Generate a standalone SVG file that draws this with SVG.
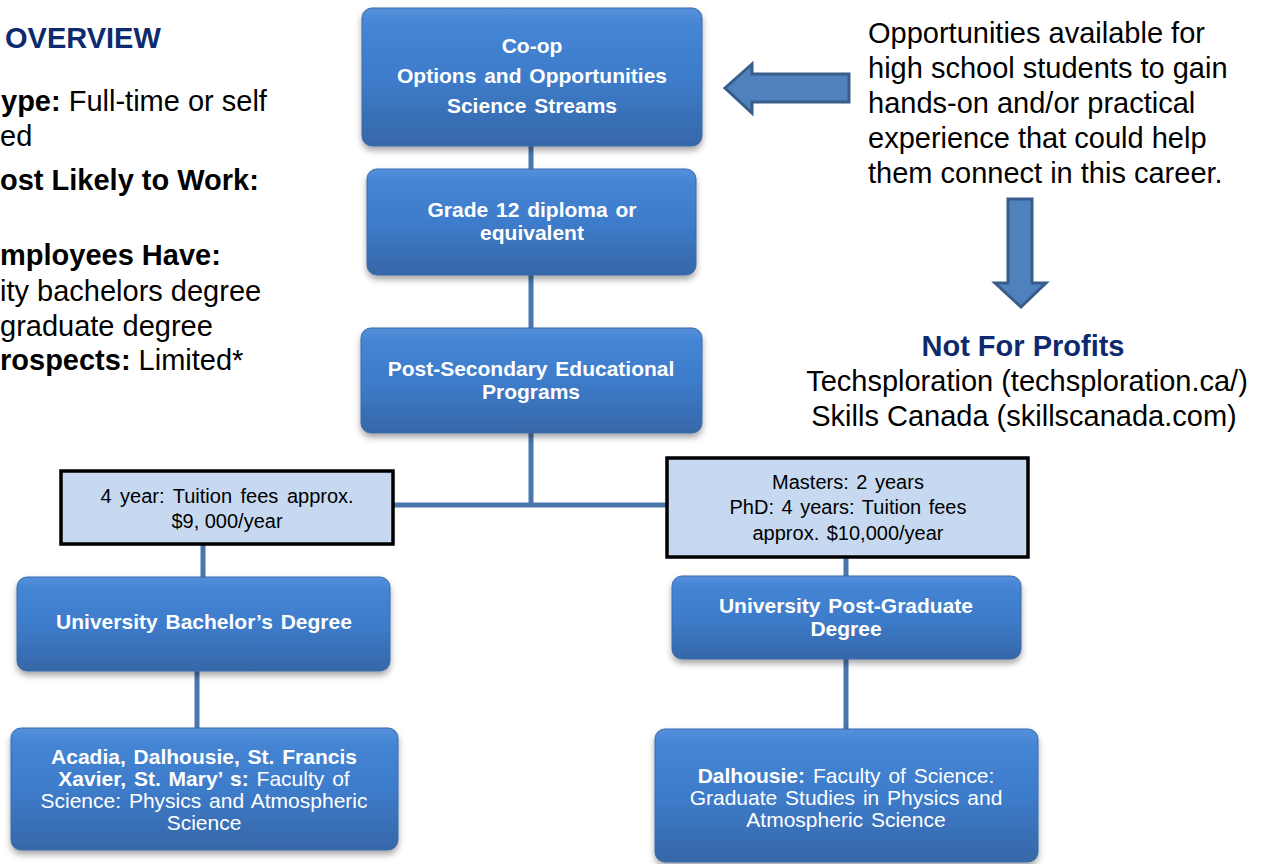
<svg xmlns="http://www.w3.org/2000/svg" width="1266" height="864" viewBox="0 0 1266 864">
<defs>
<linearGradient id="bg" x1="0" y1="0" x2="0" y2="1">
<stop offset="0" stop-color="#5590dc"/>
<stop offset="0.12" stop-color="#4585d4"/>
<stop offset="0.5" stop-color="#3d7ccb"/>
<stop offset="1" stop-color="#3667a8"/>
</linearGradient>
<filter id="sh" x="-10%" y="-10%" width="120%" height="130%">
<feDropShadow dx="0" dy="4" stdDeviation="3" flood-color="#000" flood-opacity="0.35"/>
</filter>
<style>
.box{fill:url(#bg);stroke:#3a6aa8;stroke-width:1;filter:url(#sh)}
.tb{fill:#c6d9f0;stroke:#000;stroke-width:3.5}
.wt{font-family:"Liberation Sans",Arial,sans-serif;font-size:21px;fill:#fff;text-anchor:middle}
.bt{font-family:"Liberation Sans",Arial,sans-serif;font-size:20px;fill:#000;text-anchor:middle}
.big{font-family:"Liberation Sans",Arial,sans-serif;font-size:29px;fill:#000}
.b{font-weight:bold}
.navy{fill:#0d2a6e;font-weight:bold}
.con{stroke:#4a76ae;stroke-width:5;fill:none}
.arr{fill:#4f81bd;stroke:#385d8a;stroke-width:3;stroke-linejoin:miter}
</style>
</defs>
<rect width="1266" height="864" fill="#fff"/>

<g id="connectors">
<line class="con" x1="531" y1="146" x2="531" y2="169"/>
<line class="con" x1="531" y1="275" x2="531" y2="328"/>
<line class="con" x1="531" y1="433" x2="531" y2="505"/>
<line class="con" x1="393" y1="505" x2="667" y2="505"/>
<line class="con" x1="203" y1="544" x2="203" y2="577"/>
<line class="con" x1="197" y1="671" x2="197" y2="728"/>
<line class="con" x1="846" y1="557" x2="846" y2="576"/>
<line class="con" x1="846" y1="659" x2="846" y2="729"/>
</g>

<g id="overview">
<text class="big navy" x="5" y="48" font-size="31">OVERVIEW</text>
<text class="big" x="1" y="111"><tspan class="b">ype:</tspan> Full-time or self</text>
<text class="big" x="0" y="146">ed</text>
<text class="big b" x="0" y="190">ost Likely to Work:</text>
<text class="big b" x="0" y="265">mployees Have:</text>
<text class="big" x="0" y="301">ity bachelors degree</text>
<text class="big" x="0" y="336">graduate degree</text>
<text class="big" x="0" y="370"><tspan class="b">rospects:</tspan> Limited*</text>
</g>

<g id="coop">
<rect class="box" x="362" y="8" width="340" height="138" rx="10"/>
<text class="wt b" x="532" y="53">Co-op</text>
<text class="wt b" x="532" y="83" word-spacing="2">Options and Opportunities</text>
<text class="wt b" x="532" y="113" word-spacing="2">Science Streams</text>
</g>

<g id="grade12">
<rect class="box" x="367" y="169" width="329" height="106" rx="10"/>
<text class="wt b" x="532" y="217" word-spacing="2">Grade 12 diploma or</text>
<text class="wt b" x="532" y="240">equivalent</text>
</g>

<g id="postsec">
<rect class="box" x="361" y="328" width="341" height="105" rx="10"/>
<text class="wt b" x="531" y="376" word-spacing="2">Post-Secondary Educational</text>
<text class="wt b" x="531" y="399">Programs</text>
</g>

<g id="tuition4">
<rect class="tb" x="61" y="471" width="332" height="73"/>
<text class="bt" x="227" y="503" word-spacing="3">4 year: Tuition fees approx.</text>
<text class="bt" x="227" y="528">$9, 000/year</text>
</g>

<g id="tuitionGrad">
<rect class="tb" x="667" y="458" width="361" height="99"/>
<text class="bt" x="848" y="489" word-spacing="2">Masters: 2 years</text>
<text class="bt" x="848" y="514" word-spacing="2">PhD: 4 years: Tuition fees</text>
<text class="bt" x="848" y="540" word-spacing="2">approx. $10,000/year</text>
</g>

<g id="bachelor">
<rect class="box" x="17" y="577" width="373" height="94" rx="10"/>
<text class="wt b" x="204" y="629" word-spacing="2">University Bachelor’s Degree</text>
</g>

<g id="acadia">
<rect class="box" x="11" y="728" width="387" height="122" rx="10"/>
<text class="wt b" x="204" y="764" word-spacing="2">Acadia, Dalhousie, St. Francis</text>
<text class="wt" x="204" y="786" word-spacing="2"><tspan class="b">Xavier, St. Mary’ s:</tspan> Faculty of</text>
<text class="wt" x="204" y="808" word-spacing="2">Science: Physics and Atmospheric</text>
<text class="wt" x="204" y="830">Science</text>
</g>

<g id="postgrad">
<rect class="box" x="672" y="576" width="349" height="83" rx="10"/>
<text class="wt b" x="846" y="613" word-spacing="2">University Post-Graduate</text>
<text class="wt b" x="846" y="636">Degree</text>
</g>

<g id="dalhousie">
<rect class="box" x="655" y="729" width="383" height="133" rx="10"/>
<text class="wt" x="846" y="783" word-spacing="2"><tspan class="b">Dalhousie:</tspan> Faculty of Science:</text>
<text class="wt" x="846" y="805" word-spacing="2">Graduate Studies in Physics and</text>
<text class="wt" x="846" y="827" word-spacing="2">Atmospheric Science</text>
</g>

<g id="arrowLeft">
<polygon class="arr" points="725,88 752,64 752,74 849,74 849,102 752,102 752,113"/>
</g>

<g id="opportunities">
<text class="big" x="868" y="43">Opportunities available for</text>
<text class="big" x="868" y="78">high school students to gain</text>
<text class="big" x="868" y="113">hands-on and/or practical</text>
<text class="big" x="868" y="148">experience that could help</text>
<text class="big" x="868" y="183">them connect in this career.</text>
</g>

<g id="arrowDown">
<polygon class="arr" points="1008,199 1032,199 1032,283 1046,283 1021,307 995,283 1008,283"/>
</g>

<g id="notforprofits">
<text class="big navy" x="1023" y="356" text-anchor="middle" font-size="28">Not For Profits</text>
<text class="big" x="1027" y="391" text-anchor="middle">Techsploration (techsploration.ca/)</text>
<text class="big" x="1024" y="426" text-anchor="middle">Skills Canada (skillscanada.com)</text>
</g>
</svg>
